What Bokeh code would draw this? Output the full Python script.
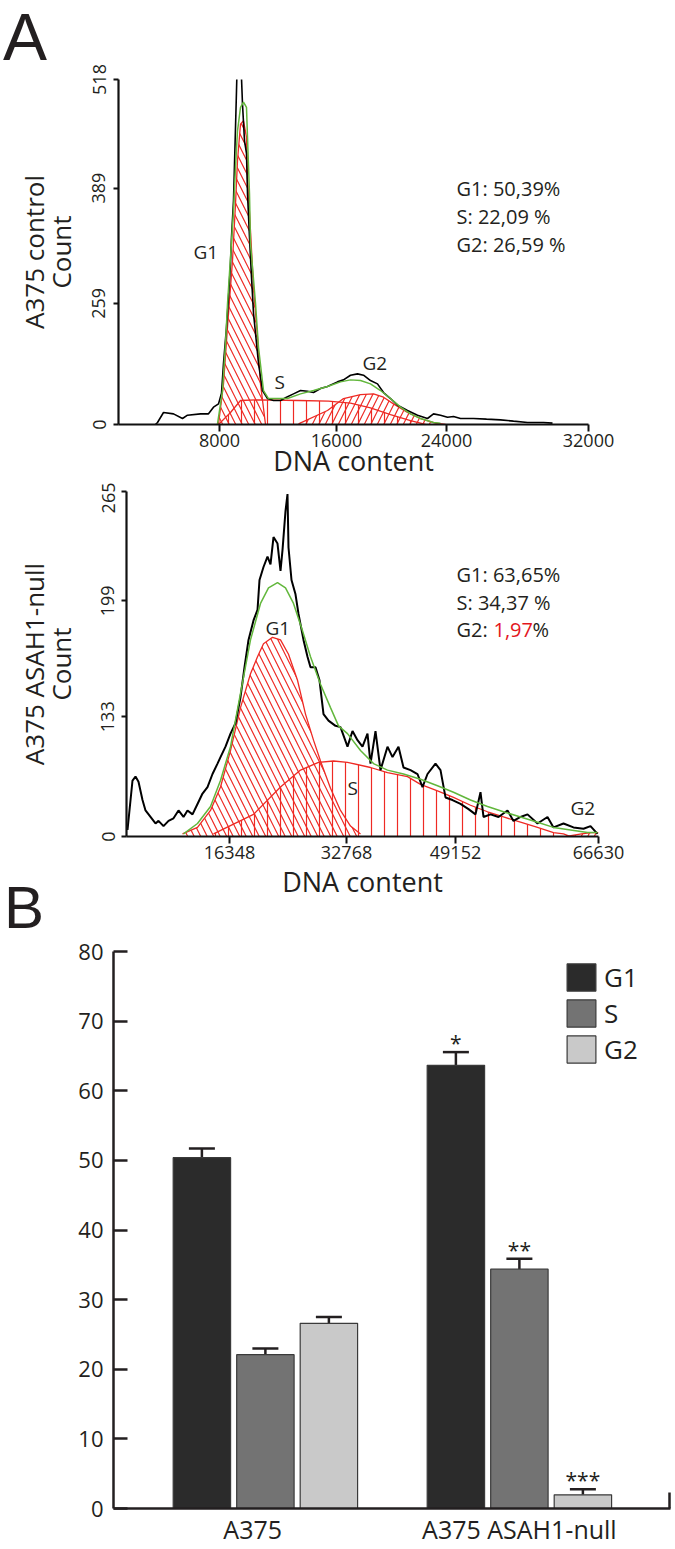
import math
from bokeh.plotting import figure
from bokeh.models import (FixedTicker, Label, ColumnDataSource, Whisker, TeeHead,
                          Legend, LegendItem, Range1d, Div)
from bokeh.layouts import column
from bokeh.embed import file_html
from bokeh.resources import INLINE
from bokeh.core.properties import value

FONT = "Open Sans"
TXT = "#231f20"
RED = "#ee2a24"
GREEN = "#62b73c"

# ---------------- Panel A (top): A375 control ----------------
c_ctrl = [37, 39, 45, 55, 64, 69, 82, 90, 95, 100, 103, 105, 108, 110, 112, 113, 115, 116, 117, 118,
          119, 122, 123, 124, 126, 128, 129, 131, 133, 135, 138, 140, 144, 149, 155, 162, 168, 175,
          182, 189, 195, 202, 209, 219, 225, 232, 239, 245, 252, 259, 265, 272, 279, 289, 299, 309,
          315, 322, 329, 335, 342, 355, 368, 382, 395, 409, 425, 434]
n_ctrl = [0, 3, 18, 16, 9, 14, 16, 16, 26, 31, 47, 92, 146, 191, 242, 281, 336, 391, 446, 501,
          560, 560, 520, 481, 426, 407, 347, 281, 221, 167, 122, 92, 51, 39, 36, 36, 41, 46,
          51, 50, 48, 54, 57, 64, 67, 74, 76, 74, 66, 61, 48, 39, 29, 21, 14, 9,
          16, 14, 11, 12, 9, 9, 8, 7, 5, 3, 3, 2]
fit_ctrl_x = [99, 104, 107, 109, 112, 115, 117, 119, 122, 125, 128, 129, 131, 132, 137, 140, 145, 150,
              162, 169, 182, 195, 209, 222, 232, 242, 252, 262, 272, 282, 292, 302, 315, 322]
fit_ctrl_y = [1, 51, 121, 181, 251, 321, 386, 441, 476, 484, 476, 431, 346, 272, 182, 116, 51, 39,
              39, 39, 46, 51, 57, 64, 67, 66, 61, 51, 39, 26, 16, 9, 3, 2]
g1_ctrl_x = [100, 105, 109, 114, 117, 119, 122, 125, 128, 129, 132, 135, 139, 142, 147]
g1_ctrl_y = [0, 61, 146, 246, 331, 396, 451, 456, 431, 371, 291, 206, 131, 61, 0]
s_ctrl_x = [100, 112, 122, 140, 180, 210, 232, 252, 272, 292, 307]
s_ctrl_y = [0, 18, 36, 37, 36, 35, 32, 25, 15, 6, 0]
g2_ctrl_x = [180, 209, 225, 242, 255, 265, 275, 289, 302, 317, 327]
g2_ctrl_y = [1, 21, 39, 45, 46, 41, 31, 18, 9, 2, 0]
x1_tick_pos = [101, 218, 328, 470]
x1_tick_lab = ["8000", "16000", "24000", "32000"]
y1_tick_pos = [0, 182, 355, 518]
y1_tick_lab = ["0", "259", "389", "518"]
stats_ctrl = ["G1: 50,39%", "S: 22,09 %", "G2: 26,59 %"]

# ---------------- Panel A (bottom): A375 ASAH1-null ----------------
c_null = [1, 6, 9, 12, 16, 19, 24, 29, 32, 37, 42, 47, 52, 57, 61, 66, 71, 76, 81, 86, 91, 94, 99,
          104, 109, 114, 118, 122, 127, 131, 133, 137, 141, 144, 147, 151, 154, 156, 159, 161, 162,
          165, 169, 172, 177, 181, 184, 189, 193, 197, 202, 209, 214, 221, 226, 231, 236, 241, 244,
          249, 254, 261, 266, 272, 277, 284, 291, 296, 301, 309, 314, 319, 326, 334, 342, 349, 354,
          357, 364, 372, 381, 387, 394, 401, 411, 421, 427, 437, 447, 457, 464, 471]
n_null = [5, 43, 46, 42, 28, 20, 15, 10, 12, 8, 12, 14, 20, 15, 20, 17, 25, 33, 38, 48, 56, 61, 69,
          79, 87, 107, 130, 151, 166, 174, 197, 207, 215, 209, 230, 225, 204, 220, 250, 263, 222,
          197, 186, 171, 151, 138, 130, 130, 120, 94, 89, 85, 84, 69, 81, 74, 69, 79, 56,
          81, 51, 69, 61, 69, 53, 51, 48, 38, 48, 56, 51, 30, 28, 25, 21, 17, 34,
          15, 17, 15, 20, 12, 15, 17, 10, 15, 7, 10, 7, 6, 8, 2]
fit_null_x = [57, 71, 84, 94, 104, 114, 124, 134, 142, 151, 159, 167, 176, 184, 194, 204, 212, 221,
              234, 247, 261, 277, 294, 311, 327, 344, 361, 377, 394, 411, 427, 444, 461, 471]
fit_null_y = [2, 10, 23, 43, 69, 110, 151, 179, 191, 195, 191, 179, 158, 138, 117, 99, 85, 79,
              66, 56, 51, 48, 44, 39, 34, 28, 23, 19, 15, 11, 7, 5, 3, 3]
g1_null_x = [56, 71, 84, 94, 104, 114, 124, 131, 137, 146, 154, 162, 171, 179, 187, 194, 204, 214, 224, 234]
g1_null_y = [2, 7, 20, 38, 66, 99, 125, 138, 148, 153, 151, 140, 120, 94, 74, 58, 37, 20, 8, 2]
s_null_x = [87, 127, 154, 174, 192, 207, 221, 244, 261, 281, 294, 311, 327, 344, 361, 377, 394, 411, 427, 437, 444]
s_null_y = [2, 17, 38, 51, 57, 58, 57, 53, 49, 46, 40, 35, 30, 24, 19, 15, 11, 7, 3, 2, 0]
g2_null_x = [440, 455, 465, 472]
g2_null_y = [0, 2, 3, 3]
x2_tick_pos = [103, 220, 329, 472]
x2_tick_lab = ["16348", "32768", "49152", "66630"]
y2_tick_pos = [0, 92, 181, 265]
y2_tick_lab = ["0", "133", "199", "265"]
stats_null = ["G1: 63,65%", "S: 34,37 %", "G2: "]
stats_null_red = "1,97"

# ---------------- Panel B: bar chart ----------------
groups = ["A375", "A375 ASAH1-null"]
phases = ["G1", "S", "G2"]
g1_vals = [50.39, 63.65]
s_vals = [22.09, 34.37]
g2_vals = [26.59, 1.97]
g1_err = [1.3, 1.9]
s_err = [0.9, 1.5]
g2_err = [0.9, 0.8]
g1_star = ["", "*"]
s_star = ["", "**"]
g2_star = ["", "***"]
bar_colors = ["#2b2b2b", "#737373", "#c9c9c9"]
y3_ticks = [0, 10, 20, 30, 40, 50, 60, 70, 80]


def style_hist_axes(p, xpos, xlab, ypos, ylab, ylabel, ytick_so, ylab_so, xlab_so):
    p.grid.visible = False
    p.outline_line_color = None
    p.background_fill_color = None
    p.border_fill_color = None
    xa = p.xaxis[0]
    xa.ticker = FixedTicker(ticks=xpos)
    xa.major_label_overrides = {v: l for v, l in zip(xpos, xlab)}
    xa.minor_tick_line_color = None
    xa.major_tick_in = 0
    xa.major_tick_out = 7
    xa.axis_line_width = 2.2
    xa.major_tick_line_width = 2
    xa.axis_line_color = "#111111"
    xa.major_tick_line_color = "#111111"
    xa.major_label_text_font = FONT
    xa.major_label_text_font_size = "18px"
    xa.major_label_text_color = TXT
    xa.major_label_standoff = 2
    xa.axis_label = "DNA content"
    xa.axis_label_text_font = FONT
    xa.axis_label_text_font_size = "27px"
    xa.axis_label_text_font_style = "normal"
    xa.axis_label_text_color = TXT
    xa.axis_label_standoff = xlab_so
    ya = p.yaxis[0]
    ya.ticker = FixedTicker(ticks=ypos)
    ya.major_label_overrides = {v: l for v, l in zip(ypos, ylab)}
    ya.minor_tick_line_color = None
    ya.major_tick_in = 0
    ya.major_tick_out = 5
    ya.axis_line_width = 2.2
    ya.major_tick_line_width = 2
    ya.axis_line_color = "#111111"
    ya.major_tick_line_color = "#111111"
    ya.major_label_orientation = "vertical"
    ya.major_label_text_font = FONT
    ya.major_label_text_font_size = "18px"
    ya.major_label_text_color = TXT
    ya.major_label_standoff = ytick_so
    ya.axis_label = ylabel
    ya.axis_label_text_font = FONT
    ya.axis_label_text_font_size = "26px"
    ya.axis_label_text_font_style = "normal"
    ya.axis_label_text_line_height = 0.75
    ya.axis_label_text_color = TXT
    ya.axis_label_standoff = ylab_so


def draw_hist(p, cx, cy, fx, fy, comps, bw):
    for (xs, ys, pat) in comps:
        p.varea(x=xs, y1=[0] * len(xs), y2=ys, fill_color=None, fill_alpha=0,
                hatch_pattern=pat, hatch_color=RED, hatch_weight=1.2, hatch_scale=13)
    for (xs, ys, pat) in comps:
        p.line(xs, ys, line_color=RED, line_width=1.3)
    p.line(cx, cy, line_color="black", line_width=bw)
    p.line(fx, fy, line_color=GREEN, line_width=1.5)


def lab(p, x, y, text, size, color=TXT, align="left"):
    p.add_layout(Label(x=x, y=y, text=text, text_font=FONT, text_font_size=size,
                       text_color=color, text_align=align, text_baseline="alphabetic"))


# ---- figure 1 (page rows 0..482) ----
def d1(px, py):
    return px - 118, (424 - py) * 518 / 345


p1 = figure(width=675, height=482, x_range=Range1d(0, 470), y_range=Range1d(0, 518),
            output_backend="svg", toolbar_location=None, frame_align=False,
            min_border_left=118, min_border_right=87, min_border_top=79, min_border_bottom=58)
style_hist_axes(p1, x1_tick_pos, x1_tick_lab, y1_tick_pos, y1_tick_lab, "A375 control\nCount",
                8, 11, -8)
draw_hist(p1, c_ctrl, n_ctrl, fit_ctrl_x, fit_ctrl_y,
          [(g1_ctrl_x, g1_ctrl_y, "\\"), (s_ctrl_x, s_ctrl_y, "|"), (g2_ctrl_x, g2_ctrl_y, "/")], 1.6)
lab(p1, *d1(193, 251), "G1", "19px")
lab(p1, *d1(274, 381), "S", "19px")
lab(p1, *d1(362, 362), "G2", "19px")
for i, s in enumerate(stats_ctrl):
    lab(p1, *d1(456, 188 + 28 * i), s, "20px")

# ---- figure 2 (page rows 482..930) ----
def d2(px, py):
    return px - 126, (836 - py) * 265 / 345


p2 = figure(width=675, height=448, x_range=Range1d(0, 472), y_range=Range1d(0, 265),
            output_backend="svg", toolbar_location=None, frame_align=False,
            min_border_left=126, min_border_right=77, min_border_top=9, min_border_bottom=94)
style_hist_axes(p2, x2_tick_pos, x2_tick_lab, y2_tick_pos, y2_tick_lab, "A375 ASAH1-null\nCount",
                7, 20, 1)
draw_hist(p2, c_null, n_null, fit_null_x, fit_null_y,
          [(g1_null_x, g1_null_y, "\\"), (s_null_x, s_null_y, "|"), (g2_null_x, g2_null_y, "/")], 2.0)
lab(p2, *d2(265, 627), "G1", "19px")
lab(p2, *d2(347, 787), "S", "19px")
lab(p2, *d2(570, 807), "G2", "19px")
for i, s in enumerate(stats_null):
    lab(p2, *d2(456, 574 + 27.5 * i), s, "20px")
lab(p2, *d2(493, 629), stats_null_red, "20px", color="#e3161d")
lab(p2, *d2(532, 629), "%", "20px")

# ---- figure 3: bar chart (page rows 930..1548) ----
x0 = -0.598
x1 = x0 + 557 / 254
p3 = figure(width=675, height=618, x_range=Range1d(x0, x1), y_range=Range1d(0, 80),
            output_backend="svg", toolbar_location=None, frame_align=False,
            min_border_left=113, min_border_right=5, min_border_top=21, min_border_bottom=39)
p3.grid.visible = False
p3.outline_line_color = None
p3.border_fill_color = None
p3.background_fill_color = None
gpos = [0.0, 1.0]
offs = [-0.25, 0.0, 0.25]
bw = 0.226
items = []
for k, (vals, errs, stars) in enumerate([(g1_vals, g1_err, g1_star), (s_vals, s_err, s_star),
                                         (g2_vals, g2_err, g2_star)]):
    xs = [g + offs[k] for g in gpos]
    src = ColumnDataSource(dict(x=xs, top=vals, lo=vals, hi=[v + e for v, e in zip(vals, errs)],
                                star=stars))
    r = p3.vbar(x="x", top="top", width=bw, source=src, fill_color=bar_colors[k],
                line_color="#3a3a3a", line_width=1.2)
    items.append(LegendItem(label=phases[k], renderers=[r]))
    p3.add_layout(Whisker(base="x", lower="lo", upper="hi", source=src, dimension="height",
                          line_width=2.5, line_color=TXT, lower_head=None,
                          upper_head=TeeHead(size=26, line_width=2.5, line_color=TXT)))
    p3.text(x="x", y="hi", text="star", source=src, text_align="center",
            text_baseline="bottom", y_offset=5, text_font=value(FONT),
            text_font_size="21px", text_color=TXT)

legend = Legend(items=items, location="top_right", margin=8, padding=6, spacing=-2,
                glyph_width=36, glyph_height=34, label_width=58, label_standoff=5,
                label_text_font=FONT, label_text_font_size="26px", label_text_color=TXT,
                border_line_color=None, background_fill_alpha=0)
p3.add_layout(legend)

xa = p3.xaxis[0]
xa.ticker = FixedTicker(ticks=[-0.05, 1.0], minor_ticks=[x1 - 0.002])
xa.major_label_overrides = {-0.05: groups[0], 1.0: groups[1]}
xa.major_tick_in = 0
xa.major_tick_out = 0
xa.minor_tick_in = 16
xa.minor_tick_out = 0
xa.minor_tick_line_width = 2.5
xa.minor_tick_line_color = TXT
xa.axis_line_width = 2.5
xa.axis_line_color = TXT
xa.major_label_text_font = FONT
xa.major_label_text_font_size = "25px"
xa.major_label_text_color = TXT
xa.major_label_standoff = 3
ya = p3.yaxis[0]
ya.ticker = FixedTicker(ticks=y3_ticks)
ya.minor_tick_line_color = None
ya.major_tick_in = 14
ya.major_tick_out = 0
ya.major_tick_line_width = 2.5
ya.major_tick_line_color = TXT
ya.axis_line_width = 2.5
ya.axis_line_color = TXT
ya.major_label_text_font = FONT
ya.major_label_text_font_size = "22px"
ya.major_label_text_color = TXT
ya.major_label_standoff = 10

# panel letters as real HTML text overlapping the figure borders
divA = Div(text='<div style="font-family:\'Liberation Sans\';font-size:66px;line-height:74px;'
                'color:#231f20;margin:0;padding:0 0 0 3px">A</div>',
           width=70, height=74, margin=(0, 0, -74, 0))
divB = Div(text='<div style="font-family:\'Liberation Sans\';font-size:60px;line-height:67px;'
                'color:#231f20;margin:0;padding:0 0 0 4px">B</div>',
           width=70, height=67, margin=(-56, 0, -11, 0))

layout = column(divA, p1, p2, divB, p3, spacing=0)
open("out.html", "w").write(file_html(layout, INLINE))
